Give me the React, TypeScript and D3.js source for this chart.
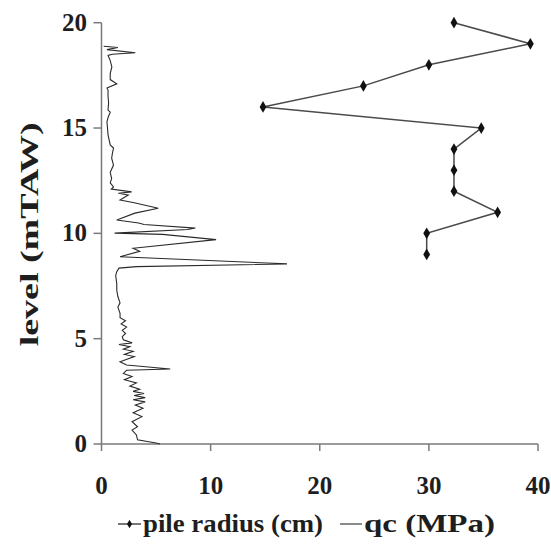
import * as d3 from "d3";

// pile radius (cm) per level (mTAW)
const pileLevels = [20, 19, 18, 17, 16, 15, 14, 13, 12, 11, 10, 9];
const pileRadius = [32.3, 39.3, 30, 24, 14.8, 34.8, 32.3, 32.3, 32.3, 36.3, 29.8, 29.8];

// qc (MPa) profile, read top to bottom
const qcLevels = [
  18.88, 18.82, 18.72, 18.57, 18.5, 18.45, 18.2, 17.9, 17.6, 17.3, 17.1, 16.9, 16.8, 16.5, 16.2,
  15.85, 15.75, 15.5, 15.3, 15.0, 14.67, 14.2, 14.05, 13.8, 13.57, 13.24, 12.9, 12.6, 12.4, 12.2,
  12.1, 11.97, 11.9, 11.82, 11.58, 11.45, 11.19, 10.96, 10.63, 10.49, 10.42, 10.25, 10.18, 10.01,
  9.95, 9.7, 9.29, 9.15, 8.89, 8.55, 8.42, 8.35, 8.18, 8.0, 7.6, 7.3, 7.0, 6.7, 6.5, 6.2, 6.0,
  5.85, 5.7, 5.55, 5.4, 5.25, 5.1, 4.95, 4.8, 4.72, 4.62, 4.5, 4.4, 4.25, 4.15, 3.9, 3.75, 3.56,
  3.5, 3.35, 3.2, 3.05, 2.9, 2.75, 2.6, 2.5, 2.4, 2.3, 2.2, 2.1, 2.0, 1.85, 1.7, 1.48, 1.3, 1.06,
  0.82, 0.66, 0.43, 0.2, 0.05, 0.0,
];
const qcValues = [
  0.2, 1.5, 0.5, 3.1, 1.0, 0.6, 0.8, 0.95, 0.8, 0.8, 1.4, 0.5, 0.6, 0.6, 0.65,
  0.6, 0.8, 0.6, 0.5, 0.55, 0.6, 0.8, 1.1, 1.0, 0.93, 1.1, 0.8, 0.93, 0.8, 1.1,
  0.9, 2.76, 1.55, 2.45, 1.7, 3.0, 5.2, 3.06, 1.4, 3.4, 3.9, 8.6, 7.9, 1.2,
  5.6, 10.5, 2.9, 3.5, 1.7, 17.0, 3.2, 1.6, 1.4, 1.3, 1.4, 1.4, 1.5, 1.7, 1.5, 1.7, 1.7,
  2.2, 1.8, 2.3, 1.9, 2.2, 1.9, 2.0, 2.8, 1.6, 2.6, 2.0, 2.9, 2.1, 3.0, 1.7, 2.3, 6.3,
  2.3, 2.0, 2.8, 2.1, 3.2, 2.6, 3.5, 2.9, 3.9, 3.0, 4.0, 2.9, 4.0, 3.1, 3.8, 2.9, 3.7, 2.8,
  3.3, 2.8, 3.2, 3.3, 5.0, 5.35,
];

const xTicks = [0, 10, 20, 30, 40];
const yTicks = [0, 5, 10, 15, 20];

const W = 551;
const H = 550;
const font = "'Liberation Serif', 'Times New Roman', serif";

export default function App() {
  const x = d3.scaleLinear().domain([0, 40]).range([101.5, 538]);
  const y = d3.scaleLinear().domain([0, 20]).range([444, 22.7]);

  const pile = pileLevels.map((l, i) => ({ l, v: pileRadius[i] }));
  const qc = qcLevels.map((l, i) => ({ l, v: qcValues[i] }));

  const line = d3
    .line<{ l: number; v: number }>()
    .x((d) => x(d.v))
    .y((d) => y(d.l));

  const diamond = d3.symbol(d3.symbolDiamond, 40)() as string;
  const axisColor = "#7a7a7a";
  const txt = "#1e1e1e";

  return (
    <svg
      width={W}
      height={H}
      style={{ position: "absolute", left: 0, top: 0, background: "#fff" }}
      fontFamily={font}
      fontWeight="bold"
    >
      {/* axes */}
      <line x1={x(0)} x2={x(40)} y1={y(0)} y2={y(0)} stroke={axisColor} strokeWidth={1.5} />
      <line x1={x(0)} x2={x(0)} y1={y(0)} y2={y(20)} stroke={axisColor} strokeWidth={1.5} />
      {xTicks.map((t) => (
        <g key={"x" + t}>
          <line x1={x(t)} x2={x(t)} y1={y(0)} y2={y(0) + 7} stroke={axisColor} strokeWidth={1.5} />
          <text x={x(t)} y={494} textAnchor="middle" fontSize={25} fill={txt}>
            {t}
          </text>
        </g>
      ))}
      {yTicks.map((t) => (
        <g key={"y" + t}>
          <line x1={x(0) - 8} x2={x(0)} y1={y(t)} y2={y(t)} stroke={axisColor} strokeWidth={1.5} />
          <text x={87} y={y(t) + 8} textAnchor="end" fontSize={25} fill={txt}>
            {t}
          </text>
        </g>
      ))}
      <text
        transform={`translate(38,${(y(0) + y(20)) / 2 + 1}) rotate(-90)`}
        textAnchor="middle"
        fontSize={25}
        fill={txt}
        textLength={224}
        lengthAdjust="spacingAndGlyphs"
      >
        level (mTAW)
      </text>

      {/* qc profile */}
      <path d={line(qc) ?? ""} fill="none" stroke="#2a2a2a" strokeWidth={1.1} />

      {/* pile radius */}
      <path d={line(pile) ?? ""} fill="none" stroke="#4a4a4a" strokeWidth={1.5} />
      {pile.map((d, i) => (
        <path key={i} d={diamond} transform={`translate(${x(d.v)},${y(d.l)})`} fill="#111" />
      ))}

      {/* legend */}
      <g>
        <line x1={118} x2={141} y1={524} y2={524} stroke="#4a4a4a" strokeWidth={1.5} />
        <path d={d3.symbol(d3.symbolDiamond, 22)() as string} transform="translate(129.5,524)" fill="#111" />
        <text x={143} y={532} fontSize={25} fill={txt} textLength={180} lengthAdjust="spacingAndGlyphs">
          pile radius (cm)
        </text>
        <line x1={340} x2={362} y1={524} y2={524} stroke="#2a2a2a" strokeWidth={1.1} />
        <text x={364} y={532} fontSize={25} fill={txt} textLength={131} lengthAdjust="spacingAndGlyphs">
          qc (MPa)
        </text>
      </g>
    </svg>
  );
}
